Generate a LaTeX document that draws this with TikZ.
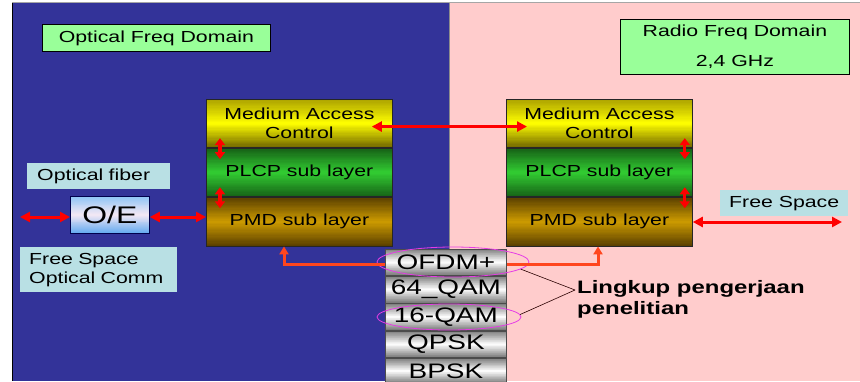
\documentclass[tikz,border=0pt]{standalone}
\usepackage{fontspec}
\setmainfont{Liberation Sans}[FakeStretch=1.33]
\usetikzlibrary{arrows.meta,calc,shapes.geometric}

\definecolor{optblue}{RGB}{51,51,153}
\definecolor{rfpink}{RGB}{255,204,204}
\definecolor{lblgreen}{RGB}{153,255,153}
\definecolor{lblcyan}{RGB}{185,224,228}
\definecolor{linkred}{RGB}{255,0,0}
\definecolor{feedorange}{RGB}{255,70,30}
\definecolor{ringmag}{RGB}{230,60,230}
\definecolor{macdark}{RGB}{170,160,0}
\definecolor{macmid}{RGB}{255,255,0}
\definecolor{macdeep}{RGB}{110,98,0}
\definecolor{plcpdark}{RGB}{22,95,22}
\definecolor{plcpmid}{RGB}{50,205,50}
\definecolor{pmddark}{RGB}{88,62,0}
\definecolor{pmdmid}{RGB}{205,155,0}
\definecolor{oetop}{RGB}{140,195,245}
\definecolor{oemid}{RGB}{244,232,244}
\definecolor{oebot}{RGB}{95,168,240}
\definecolor{metaldark}{RGB}{120,120,120}
\definecolor{metalmid}{RGB}{255,255,255}
\definecolor{metalbot}{RGB}{115,115,115}

\pgfdeclarelayer{ground}
\pgfdeclarelayer{shade}
\pgfsetlayers{ground,shade,main}

% vertical three-stop gradient painted in strips behind a node:
% #1 node, #2 top colour, #3 middle colour, #4 bottom colour
\newcommand\stripfill[4]{%
  \begin{pgfonlayer}{shade}
  \foreach \k in {0,...,39}{%
    \pgfmathtruncatemacro\upper{\k<20 ? 1 : 0}%
    \ifnum\upper=1
      \pgfmathsetmacro\pc{(\k+0.5)*5}\colorlet{stripc}{#3!\pc!#2}%
    \else
      \pgfmathsetmacro\pc{(\k-19.5)*5}\colorlet{stripc}{#4!\pc!#3}%
    \fi
    \pgfmathsetmacro\fa{\k/40}%
    \pgfmathsetmacro\fb{min(1,(\k+1.3)/40)}%
    \fill[stripc] ($(#1.north west)!\fa!(#1.south west)$) rectangle ($(#1.north east)!\fb!(#1.south east)$);
  }%
  \end{pgfonlayer}}

\begin{document}
\begin{tikzpicture}[x=1pt,y=1pt,
  txt/.style={font=\fontsize{16}{19}\selectfont, text=black},
  layerbox/.style={txt, draw=black!85, line width=0.8pt, minimum width=186pt,
    minimum height=48.33pt, inner sep=0pt, align=center, anchor=north west},
  modcell/.style={draw=black!70, line width=0.8pt, minimum width=121pt, minimum height=26.6pt,
    inner sep=0pt, font=\fontsize{21}{24}\selectfont},
  greenlbl/.style={txt, draw=black, line width=0.8pt, fill=lblgreen, inner sep=0pt, align=center},
  cyanlbl/.style={txt, fill=lblcyan, inner sep=0pt},
  redlink/.style={draw=linkred, line width=3pt,
    {Triangle[length=10pt,width=10pt]}-{Triangle[length=10pt,width=10pt]}},
  stacklink/.style={draw=linkred, line width=3.2pt,
    {Triangle[length=7pt,width=10pt]}-{Triangle[length=7pt,width=10pt]}},
  feedline/.style={draw=feedorange, line width=3pt, -{Triangle[length=8pt,width=9pt]}},
  ring/.style={ellipse, draw=ringmag, line width=0.8pt, inner sep=0pt},
  pointer/.style={draw=black!60!red!40!black, line width=0.6pt}
]
\clip (0,0) rectangle (860,-381);

% two domains
\begin{pgfonlayer}{ground}
\fill[white] (0,0) rectangle (860,-381);
\fill[optblue] (12,-3) rectangle (449,-381);
\fill[rfpink] (449,-3) rectangle (860,-381);
\draw[black!35, line width=1pt] (12,-2.5) -- (860,-2.5);
\draw[black, line width=1pt] (12,-3) -- (12,-381);
\draw[black!45, line width=0.5pt] (449,-3) -- (449,-381);
\end{pgfonlayer}

% domain labels
\node[greenlbl, minimum width=228pt, minimum height=27pt, anchor=north west] (optdom) at (42,-24) {Optical Freq Domain};
\node[greenlbl, minimum width=229pt, minimum height=55pt, anchor=north west] (rfdom) at (620,-19) {Radio Freq Domain\\[11pt]2,4 GHz};

% left protocol stack
\node[layerbox] (macL) at (206,-99) {Medium Access\\Control};
\node[layerbox, anchor=north] (plcpL) at (macL.south) {PLCP sub layer};
\node[layerbox, anchor=north] (pmdL) at (plcpL.south) {PMD sub layer};

% right protocol stack
\node[layerbox] (macR) at (506,-99) {Medium Access\\Control};
\node[layerbox, anchor=north] (plcpR) at (macR.south) {PLCP sub layer};
\node[layerbox, anchor=north] (pmdR) at (plcpR.south) {PMD sub layer};

\stripfill{macL}{macdark}{macmid}{macdeep}
\stripfill{plcpL}{plcpdark}{plcpmid}{plcpdark}
\stripfill{pmdL}{pmddark}{pmdmid}{pmddark}
\stripfill{macR}{macdark}{macmid}{macdeep}
\stripfill{plcpR}{plcpdark}{plcpmid}{plcpdark}
\stripfill{pmdR}{pmddark}{pmdmid}{pmddark}

% optical side
\node[cyanlbl, text width=123pt, inner xsep=10pt, minimum height=26pt, align=left, anchor=north west] (fiber) at (27,-163) {Optical fiber};
\node[draw=black!70!blue, line width=0.8pt, minimum width=79pt, minimum height=37pt, inner sep=0pt,
  font=\fontsize{24}{28}\selectfont, anchor=north west] (oe) at (70,-196) {O/E};
\stripfill{oe}{oetop}{oemid}{oebot}
\node[cyanlbl, text width=139pt, inner xsep=9pt, minimum height=45pt, align=left, anchor=north west] (fso) at (20,-247) {Free Space\\Optical Comm};

% radio side
\node[cyanlbl, minimum width=128pt, minimum height=26pt, anchor=north west] (fspace) at (720,-190) {Free Space};

% modulation stack
\node[modcell, anchor=north west] (ofdm) at (385,-248.5) {OFDM+};
\node[modcell, anchor=north] (qam64) at (ofdm.south) {64\_QAM};
\node[modcell, anchor=north] (qam16) at (qam64.south) {16-QAM};
\node[modcell, anchor=north] (qpsk) at (qam16.south) {QPSK};
\node[modcell, anchor=north, minimum height=25pt] (bpsk) at (qpsk.south) {BPSK};
\foreach \cell in {ofdm,qam64,qam16,qpsk,bpsk}{\stripfill{\cell}{metaldark}{metalmid}{metalbot}}

% highlighted schemes and their note
\node[ring, minimum width=152pt, minimum height=30pt] (ringA) at (453,-262) {};
\node[ring, minimum width=144pt, minimum height=26pt] (ringB) at (449,-317) {};
\node[font=\bfseries\fontsize{18}{21}\selectfont, align=left, inner sep=0pt, anchor=north west] (scope) at (577,-280) {Lingkup pengerjaan\\penelitian};
\coordinate (scopetip) at (575,-290);
\draw[pointer] (ringA.-6) -- (scopetip);
\draw[pointer] (ringB.2) -- (scopetip);

% links
\coordinate (fiberend) at (20,-217);
\draw[redlink] (fiberend) -- (fiberend -| oe.west);
\draw[redlink] (oe.east |- fiberend) -- (fiberend -| pmdL.west);
\draw[redlink] ($(macL.east)+(-21,-3)$) -- ($(macR.west)+(21,-3)$);
\coordinate (airend) at (842,-222);
\draw[redlink] (airend -| pmdR.east) -- (airend);

% links between sublayers
\draw[stacklink] ($(macL.south west)+(14,10)$) -- ($(macL.south west)+(14,-11)$);
\draw[stacklink] ($(plcpL.south west)+(14,10)$) -- ($(plcpL.south west)+(14,-11)$);
\draw[stacklink] ($(macR.south east)+(-8,10)$) -- ($(macR.south east)+(-8,-11)$);
\draw[stacklink] ($(plcpR.south east)+(-8,10)$) -- ($(plcpR.south east)+(-8,-11)$);

% modulation feeds the physical layer
\draw[feedline] ([yshift=-2.5pt]ofdm.west) -| ($(pmdL.south west)+(78,0)$);
\draw[feedline] ([yshift=-2.5pt]ofdm.east) -| ($(pmdR.south west)+(92,0)$);
\end{tikzpicture}
\end{document}
